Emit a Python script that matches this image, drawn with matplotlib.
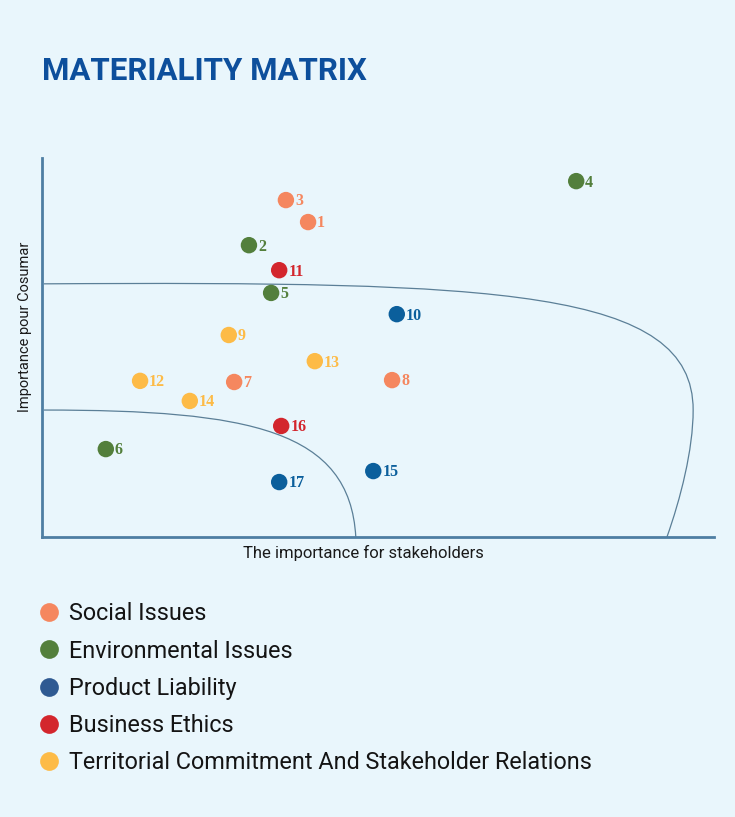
import matplotlib
matplotlib.use("Agg")
import matplotlib.pyplot as plt
from matplotlib.path import Path
from matplotlib.patches import PathPatch
from matplotlib.lines import Line2D

# issue data (x = importance for stakeholders, y = importance for Cosumar)
issue_ids = [1, 2, 3, 4, 5, 6, 7, 8, 9, 10, 11, 12, 13, 14, 15, 16, 17]
stakeholders = [39.6, 30.8, 36.3, 79.5, 34.1, 9.5, 28.6, 52.1, 27.8, 52.8,
                35.3, 14.6, 40.6, 22.0, 49.3, 35.6, 35.3]
cosumar = [83.1, 77.0, 88.9, 93.9, 64.4, 23.2, 40.9, 41.4, 53.3, 58.8,
           70.4, 41.2, 46.4, 35.9, 17.4, 29.3, 14.5]
groups = ["social", "env", "social", "env", "env", "env", "social", "social",
          "terr", "product", "business", "terr", "terr", "terr", "product",
          "business", "product"]

group_order = ["social", "env", "product", "business", "terr"]
group_names = ["Social Issues", "Environmental Issues", "Product Liability",
               "Business Ethics",
               "Territorial Commitment And Stakeholder Relations"]
group_colors = {"social": "#f5875f", "env": "#537f3c", "product": "#0b5f9c",
                "business": "#d3262d", "terr": "#fdbb47"}
legend_colors = {"social": "#f5875f", "env": "#537f3c", "product": "#2f5a92",
                 "business": "#d3262d", "terr": "#fdbb47"}

bg = "#e9f6fc"
line_col = "#5b7f97"

fig = plt.figure(figsize=(7.35, 8.17), dpi=100, facecolor=bg)
ax = fig.add_axes([0.0571, 0.3427, 0.9143, 0.4639])
ax.set_facecolor(bg)
ax.set_xlim(0, 100)
ax.set_ylim(0, 100)
ax.set_xticks([])
ax.set_yticks([])
for s in ["top", "right"]:
  ax.spines[s].set_visible(False)
for s in ["left", "bottom"]:
  ax.spines[s].set_color("#4e7ea3")
  ax.spines[s].set_linewidth(2)

# zone boundaries
inner = Path([(0.3, 33.5), (31.0, 33.5), (45.8, 28.2), (46.7, 0)],
             [Path.MOVETO, Path.CURVE4, Path.CURVE4, Path.CURVE4])
outer = Path([(0.3, 66.8), (68.2, 67.5), (96.9, 65.4), (96.9, 33.5),
              (96.9, 23.0), (95.0, 10.0), (93.0, 0)],
             [Path.MOVETO, Path.CURVE4, Path.CURVE4, Path.CURVE4,
              Path.CURVE4, Path.CURVE4, Path.CURVE4])
for p in [inner, outer]:
  ax.add_patch(PathPatch(p, facecolor="none", edgecolor=line_col, lw=0.9))

cols = [group_colors[g] for g in groups]
ax.scatter(stakeholders, cosumar, s=140, c=cols, zorder=3, linewidths=0)
for i, n in enumerate(issue_ids):
  ax.annotate(str(n), (stakeholders[i], cosumar[i]), xytext=(6.5, -1),
              textcoords="offset points", va="center", ha="left",
              color=cols[i], fontsize=11.5, fontweight="bold",
              family="Liberation Serif")

ax.set_xlabel("The importance for stakeholders", fontsize=12,
              family="Roboto", color="#1a1a1a")
ax.xaxis.set_label_coords(0.479, -0.022)
ax.xaxis.label.set_va("top")
ax.set_ylabel("Importance pour Cosumar", fontsize=10.5, family="Roboto",
              color="#1a1a1a")
ax.yaxis.set_label_coords(-0.015, 0.554)

fig.text(0.057, 0.902, "MATERIALITY MATRIX", fontsize=22.5, fontweight="bold",
         family="Roboto", color="#0d4f9c", va="baseline")

handles = [Line2D([], [], marker="o", ls="", markersize=13.5,
                  markerfacecolor=legend_colors[g], markeredgewidth=0)
           for g in group_order]
leg = fig.legend(handles, group_names, loc="upper left",
                 bbox_to_anchor=(0.032, 0.277), frameon=False,
                 prop={"family": "Roboto", "size": 16.8},
                 labelspacing=0.61, handletextpad=0.25, handlelength=1.2,
                 borderpad=0)
for t in leg.get_texts():
  t.set_color("#141414")

fig.savefig("out.png", dpi=100, facecolor=bg)
